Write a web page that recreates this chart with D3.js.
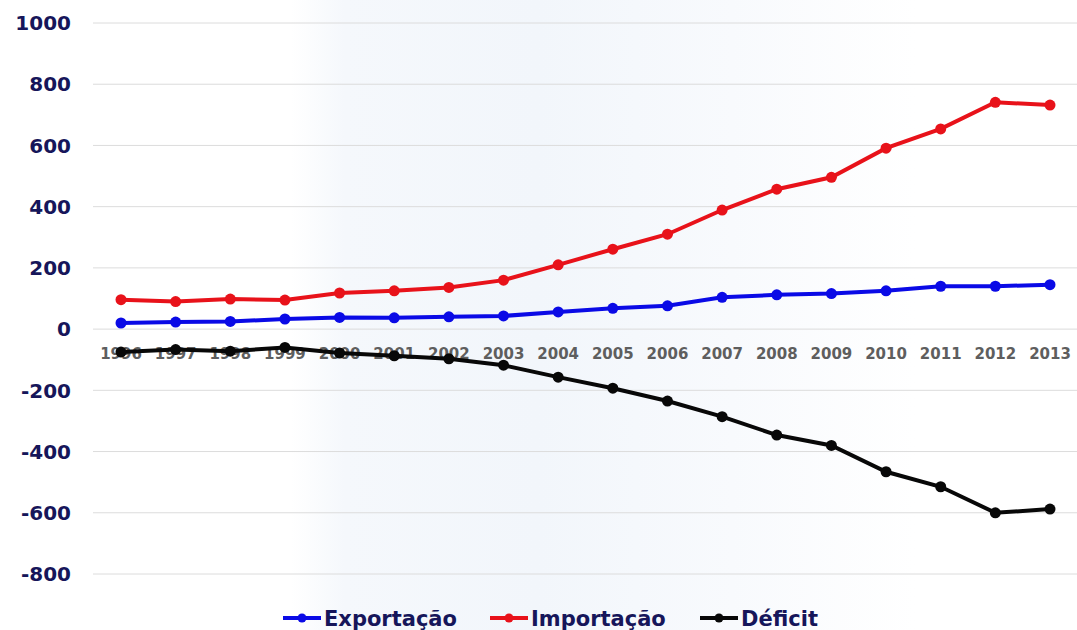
<!DOCTYPE html>
<html>
<head>
<meta charset="utf-8">
<script src="https://cdn.jsdelivr.net/npm/d3@7"></script>
<style>
  body { margin: 0; background: #fff; }
  svg { display: block; }
</style>
</head>
<body>
<svg id="chart" width="1077" height="630"></svg>
<script>
const years = [1996, 1997, 1998, 1999, 2000, 2001, 2002, 2003, 2004, 2005, 2006, 2007, 2008, 2009, 2010, 2011, 2012, 2013]
const exportacao = [20, 23, 25, 33, 38, 37, 40, 43, 56, 68, 76, 104, 112, 116, 125, 140, 140, 145]
const importacao = [96, 90, 98, 95, 118, 125, 136, 160, 210, 261, 310, 389, 457, 496, 591, 654, 741, 732]
const deficit = [-75, -67, -72, -60, -78, -87, -97, -118, -157, -193, -235, -286, -346, -380, -466, -515, -600, -588]
const yTicks = [1000, 800, 600, 400, 200, 0, -200, -400, -600, -800]

const series = [
  { name: 'Exportação', values: exportacao, color: '#0a0ae6' },
  { name: 'Importação', values: importacao, color: '#e8121a' },
  { name: 'Déficit', values: deficit, color: '#080808' }
]

const svg = d3.select('#chart')

// faint bluish wash in a band through the middle
const defs = svg.append('defs')
const grad = defs.append('linearGradient').attr('id', 'wash')
  .attr('x1', '0').attr('x2', '1').attr('y1', '0').attr('y2', '0')
grad.append('stop').attr('offset', '0%').attr('stop-color', '#ffffff')
grad.append('stop').attr('offset', '27%').attr('stop-color', '#ffffff')
grad.append('stop').attr('offset', '32%').attr('stop-color', '#f5f8fc')
grad.append('stop').attr('offset', '50%').attr('stop-color', '#f2f6fb')
grad.append('stop').attr('offset', '68%').attr('stop-color', '#f8fafd')
grad.append('stop').attr('offset', '85%').attr('stop-color', '#ffffff')
svg.append('rect').attr('width', 1077).attr('height', 630).attr('fill', 'url(#wash)')

const x = d3.scalePoint().domain(years).range([121, 1050])
const y = d3.scaleLinear().domain([-800, 1000]).range([574, 23])

// gridlines
svg.append('g')
  .selectAll('line')
  .data(yTicks)
  .join('line')
  .attr('x1', 93)
  .attr('x2', 1077)
  .attr('y1', d => y(d))
  .attr('y2', d => y(d))
  .attr('stroke', '#dcdcdc')
  .attr('stroke-width', 1)

// y labels
svg.append('g')
  .selectAll('text')
  .data(yTicks)
  .join('text')
  .attr('x', 71)
  .attr('y', d => y(d))
  .attr('dy', '0.36em')
  .attr('text-anchor', 'end')
  .attr('font-family', 'DejaVu Sans, Verdana, sans-serif')
  .attr('font-weight', 'bold')
  .attr('font-size', 20)
  .attr('fill', '#16165a')
  .text(d => d)

// year labels along zero line
svg.append('g')
  .selectAll('text')
  .data(years)
  .join('text')
  .attr('x', d => x(d))
  .attr('y', y(0) + 30)
  .attr('text-anchor', 'middle')
  .attr('font-family', 'DejaVu Sans, Verdana, sans-serif')
  .attr('font-weight', 'bold')
  .attr('font-size', 15)
  .attr('fill', '#5e5e5e')
  .text(d => d)

const line = d3.line()
  .x((d, i) => x(years[i]))
  .y(d => y(d))

series.forEach(s => {
  const g = svg.append('g')
  g.append('path')
    .datum(s.values)
    .attr('d', line)
    .attr('fill', 'none')
    .attr('stroke', s.color)
    .attr('stroke-width', 4)
  g.selectAll('circle')
    .data(s.values)
    .join('circle')
    .attr('cx', (d, i) => x(years[i]))
    .attr('cy', d => y(d))
    .attr('r', 5.5)
    .attr('fill', s.color)
})

// legend
const legendX = [283, 490, 700]
const legend = svg.append('g')
series.forEach((s, i) => {
  const lx = legendX[i]
  legend.append('line')
    .attr('x1', lx).attr('x2', lx + 38)
    .attr('y1', 618).attr('y2', 618)
    .attr('stroke', s.color).attr('stroke-width', 4)
  legend.append('circle')
    .attr('cx', lx + 19).attr('cy', 618).attr('r', 4.5)
    .attr('fill', s.color)
  legend.append('text')
    .attr('x', lx + 41)
    .attr('y', 618)
    .attr('dy', '0.36em')
    .attr('font-family', 'DejaVu Sans, Verdana, sans-serif')
    .attr('font-weight', 'bold')
    .attr('font-size', 21)
    .attr('fill', '#16165a')
    .text(s.name)
})
</script>
</body>
</html>
